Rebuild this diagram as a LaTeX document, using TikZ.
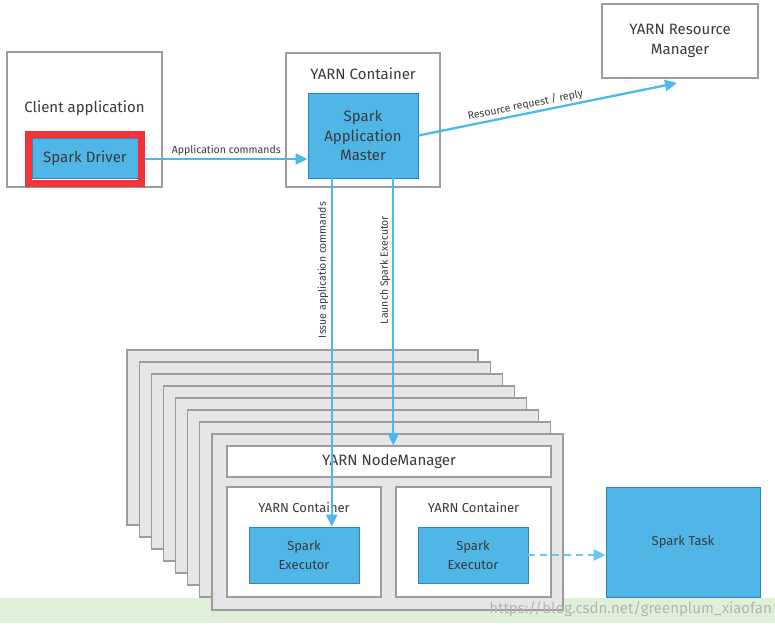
\documentclass[tikz,border=0pt]{standalone}
\usepackage{fontspec}
\setmainfont{Fira Sans}
\usepackage{tikz}
\usetikzlibrary{arrows.meta,positioning,calc}
\definecolor{SparkBlue}{HTML}{4FB6E7}
\definecolor{SparkEdge}{HTML}{2E86B8}
\definecolor{FlowBlue}{HTML}{4BB8EE}
\definecolor{DashBlue}{HTML}{6CC6F2}
\definecolor{EdgeGrey}{HTML}{9C9C9C}
\definecolor{StackGrey}{HTML}{E6E6E6}
\definecolor{LabelGrey}{HTML}{3A3A3A}
\definecolor{MarkRed}{HTML}{F2343A}
\definecolor{BandGreen}{HTML}{E0EFD8}
\definecolor{WaterGrey}{HTML}{B4B4B4}
\newcommand{\bigfont}{\fontsize{15}{19.5}\selectfont}
\newcommand{\midfont}{\fontsize{13}{19}\selectfont}
\newcommand{\smallfont}{\fontsize{10.5}{12}\selectfont}
\tikzset{
  outerbox/.style={draw=EdgeGrey,line width=1.1pt,fill=white,inner sep=0pt,align=center,text=LabelGrey,font=\bigfont},
  sparkbox/.style={draw=SparkEdge,line width=0.9pt,fill=SparkBlue,inner sep=0pt,align=center,text=LabelGrey,font=\bigfont},
  stackbox/.style={draw=EdgeGrey,line width=1.1pt,fill=StackGrey},
  boxlbl/.style={text=LabelGrey,font=\bigfont,inner sep=0pt},
  flow/.style={draw=FlowBlue,line width=2.3pt,-{Triangle[length=12pt,width=11pt]}},
  flowlbl/.style={text=LabelGrey,font=\smallfont,inner sep=2pt}
}

\begin{document}
\begin{tikzpicture}[x=1pt,y=-1pt]
  \useasboundingbox (0,0) rectangle (775,628);
  \fill[BandGreen] (0,598) rectangle (775,623);
  % client side
  \node[outerbox,minimum width=155,minimum height=135] (client) at (84.5,119.5){};
  \node[boxlbl] (clientlbl) at (84.5,108){Client application};
  \node[sparkbox,minimum width=106,minimum height=40] (driver) at (85,158){Spark Driver};
  \node[draw=MarkRed,line width=6.7pt,minimum width=113.4,minimum height=49.4] (mark) at (85,159){};
  % application master
  \node[outerbox,minimum width=154,minimum height=134] (amcont) at (363,120){};
  \node[boxlbl] (amcontlbl) at (363,74){YARN Container};
  \node[sparkbox,minimum width=110,minimum height=85] (am) at (363,135.5){Spark\\Application\\Master};
  \node[outerbox,minimum width=156,minimum height=74] (rm) at (680,41){YARN Resource\\Manager};
  \coordinate (rmtip) at (677,83);
  \draw[flow] (mark.east) -- (mark.east -| am.west) node[midway,above,flowlbl]{Application commands};
  \draw[flow] (am.east) -- (rmtip) node[pos=0.42,above,sloped,flowlbl]{Resource request / reply};
  % worker nodes
  \foreach \i in {0,...,6}
    \draw[stackbox] (127+12.1*\i,350+12*\i) rectangle ++(351,175);
  \node[stackbox,minimum width=351,minimum height=176] (worker) at (387.5,522){};
  \node[outerbox,minimum width=324,minimum height=31] (nm) at (389,461.5){YARN NodeManager};
  \node[outerbox,minimum width=154,minimum height=110] (leftcont) at (304,542){};
  \node[boxlbl,font=\midfont] (leftcontlbl) at (304,508){YARN Container};
  \node[outerbox,minimum width=155,minimum height=110] (rightcont) at (473.5,542){};
  \node[boxlbl,font=\midfont] (rightcontlbl) at (473.5,508){YARN Container};
  \node[sparkbox,font=\midfont,minimum width=110,minimum height=56] (exec1) at (304,555){Spark\\Executor};
  \node[sparkbox,font=\midfont,minimum width=110,minimum height=56] (exec2) at (473,555){Spark\\Executor};
  \node[sparkbox,font=\midfont,minimum width=154,minimum height=110] (task) at (683,542){Spark Task};
  % commands down to the workers
  \coordinate (issuetop) at ($(am.south west)!0.218!(am.south east)$);
  \coordinate (launchtop) at ($(am.south west)!0.773!(am.south east)$);
  \draw[flow] (issuetop) -- (issuetop |- exec1.north);
  \draw[flow] (launchtop) -- (launchtop |- nm.north);
  \node[flowlbl,rotate=90] (issuelbl) at (323,270){Issue application commands};
  \node[flowlbl,rotate=90] (launchlbl) at (385,270){Launch Spark Executor};
  \draw[flow,draw=DashBlue,dash pattern=on 7pt off 5pt,-{Triangle[length=12pt,width=11pt,fill=DashBlue]}] (exec2.east) -- (exec2.east -| task.west);
  % watermark
  \node[text=WaterGrey,font=\fontsize{15}{17}\selectfont,anchor=east,inner sep=0pt] (wm) at (772,609){https://blog.csdn.net/greenplum\_xiaofan};
\end{tikzpicture}
\end{document}
